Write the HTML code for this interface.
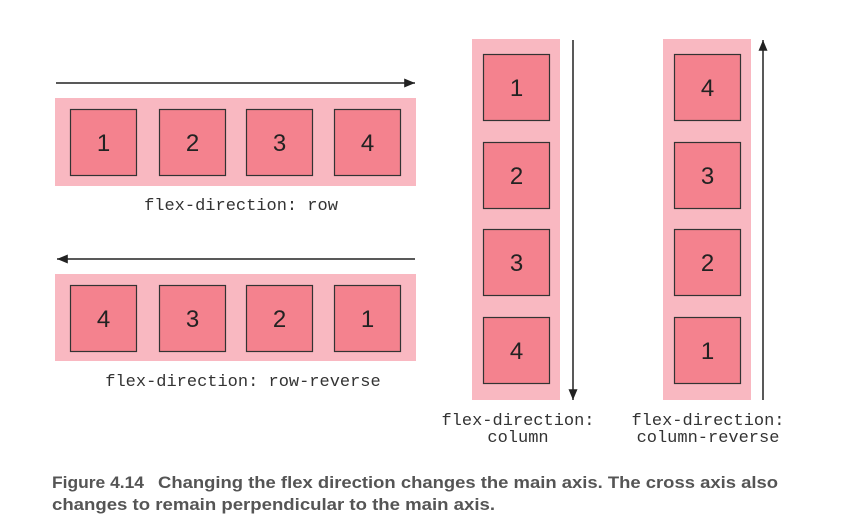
<!DOCTYPE html>
<html><head><meta charset="utf-8"><style>
html,body{margin:0;padding:0;background:#fff;width:865px;height:530px;overflow:hidden}
svg{display:block}
.num{font-family:"Liberation Sans",sans-serif;font-size:24px;fill:#222;text-anchor:middle}
.mono{font-family:"Liberation Mono",monospace;font-size:17px;fill:#333;text-anchor:middle}
.cap{font-family:"Liberation Sans",sans-serif;font-weight:bold;font-size:17px;fill:#555}
</style></head><body>
<svg id="fig" width="865" height="530" viewBox="0 0 865 530">
<defs><marker id="ah" viewBox="0 0 12 10" refX="12" refY="5" markerWidth="13" markerHeight="9" markerUnits="userSpaceOnUse" orient="auto"><path d="M0,0L12,5L0,10z" fill="#222"/></marker></defs>
<g id="diag"></g>
<text class="mono" x="241" y="210">flex-direction: row</text>
<text class="mono" x="243" y="386">flex-direction: row-reverse</text>
<text class="mono" x="518" y="425">flex-direction:</text>
<text class="mono" x="518" y="442">column</text>
<text class="mono" x="708" y="425">flex-direction:</text>
<text class="mono" x="708" y="442">column-reverse</text>
<text class="cap" x="52" y="488" textLength="92" lengthAdjust="spacingAndGlyphs">Figure 4.14</text>
<text class="cap" x="158" y="488" textLength="620" lengthAdjust="spacingAndGlyphs">Changing the flex direction changes the main axis. The cross axis also</text>
<text class="cap" x="52" y="510" textLength="443" lengthAdjust="spacingAndGlyphs">changes to remain perpendicular to the main axis.</text>
</svg>
<script>
const rowOrder=[1,2,3,4];
const rowReverseOrder=[4,3,2,1];
const columnOrder=[1,2,3,4];
const columnReverseOrder=[4,3,2,1];
const NS="http://www.w3.org/2000/svg";
const g=document.getElementById('diag');
function mk(tag,attrs){const e=document.createElementNS(NS,tag);for(const k in attrs)e.setAttribute(k,attrs[k]);g.appendChild(e);return e;}
function container(x,y,w,h,name){const r=mk('rect',{x:x,y:y,width:w,height:h,fill:'#f9b8c1'});

}
function item(x,y,n,name){const r=mk('rect',{x:x+0.5,y:y+0.5,width:66,height:66,fill:'#f4828e',stroke:'#333','stroke-width':1.2});


const t=mk('text',{x:x+33.5,y:y+42,class:'num'});t.textContent=n;

}
function arrow(x1,y1,x2,y2,name){const l=mk('line',{x1:x1,y1:y1,x2:x2,y2:y2,stroke:'#222','stroke-width':1.5,'marker-end':'url(#ah)'});

}
const rowX=[70,159,246,334], colY=[54,142,229,317];
arrow(56,83,415,83,'row-main-axis-arrow');
container(55,98,361,88,'row-container');
rowOrder.forEach((n,i)=>item(rowX[i],109,n,'row-item-'+n));
arrow(415,259,57,259,'row-reverse-main-axis-arrow');
container(55,274,361,87,'row-reverse-container');
rowReverseOrder.forEach((n,i)=>item(rowX[i],285,n,'row-reverse-item-'+n));
container(472,39,88,361,'column-container');
columnOrder.forEach((n,i)=>item(483,colY[i],n,'column-item-'+n));
arrow(573,40,573,400,'column-main-axis-arrow');
container(663,39,88,361,'column-reverse-container');
columnReverseOrder.forEach((n,i)=>item(674,colY[i],n,'column-reverse-item-'+n));
arrow(763,400,763,40,'column-reverse-main-axis-arrow');
</script>
</body></html>
